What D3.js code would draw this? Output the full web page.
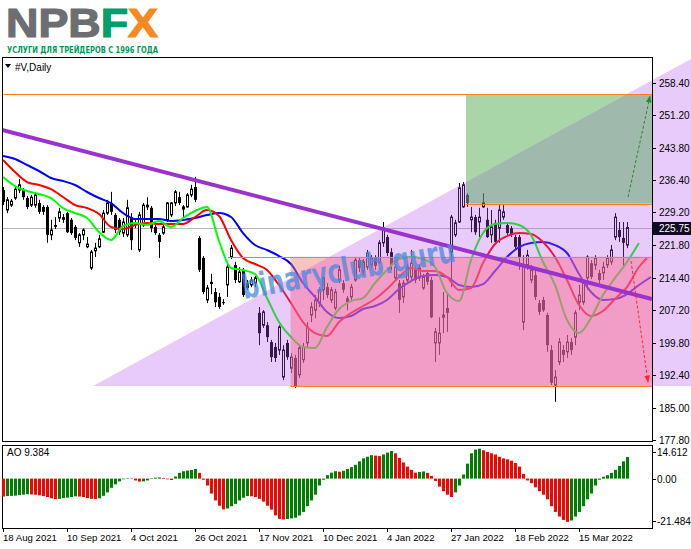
<!DOCTYPE html>
<html><head><meta charset="utf-8">
<script src="https://cdn.jsdelivr.net/npm/d3@7"></script>
<style>html,body{margin:0;padding:0;background:#fff;}svg{display:block;}</style>
</head><body>
<svg id="chart" width="691" height="549"></svg>
<script>
// ---------- DATA ----------
const symbolTitle = "#V,Daily";
const priceTicks = [258.40, 251.20, 243.80, 236.40, 229.20, 221.80, 214.40, 207.20, 199.80, 192.40, 185.00, 177.80];
const lastPrice = 225.75;
const aoTicks = [14.612, 0.00, -21.484];
const aoLast = 9.384;
const dateTickBars = [0, 16, 32, 48, 64, 80, 96, 112, 128, 144];
const dateTickLabels = ["18 Aug 2021","10 Sep 2021","4 Oct 2021","26 Oct 2021","17 Nov 2021","10 Dec 2021","4 Jan 2022","27 Jan 2022","18 Feb 2022","15 Mar 2022"];

// daily candles [open, high, low, close], one per bar
const candles = [
[234.2,234.9,230.8,231.5],[229.7,232.6,229.0,232.0],[230.8,232.2,230.4,231.7],[232.4,234.9,232.0,234.4],[234.2,236.7,233.5,235.4],
[234.2,234.7,232.0,232.6],[232.4,232.9,229.9,230.4],[230.8,233.1,230.4,232.6],[230.8,233.5,230.2,233.1],[231.3,232.0,228.8,229.3],
[230.4,230.8,228.6,229.3],[230.4,230.8,222.3,224.1],[224.1,227.5,222.9,225.2],[226.3,228.1,225.4,225.9],[227.9,230.2,227.0,229.3],
[228.1,228.8,226.8,227.5],[229.0,229.3,224.5,224.7],[227.5,227.9,224.1,224.5],[225.9,226.3,222.9,223.4],[222.3,224.5,221.4,224.1],
[224.1,225.6,222.9,225.2],[221.4,223.6,221.1,222.0],[216.6,220.7,216.2,220.2],[220.5,222.3,219.1,221.1],[221.4,224.1,221.1,223.2],
[224.7,229.7,224.5,229.0],[229.0,232.0,228.6,231.3],[231.3,233.8,228.6,229.3],[228.6,229.0,224.5,225.2],[227.5,227.9,224.1,224.7],
[224.5,227.9,223.6,227.0],[224.1,232.0,223.6,230.2],[228.1,229.0,220.7,222.9],[226.8,227.5,225.6,226.3],[220.7,229.3,220.2,228.6],
[226.3,231.3,225.9,230.8],[230.4,232.6,229.7,230.8],[230.2,230.6,224.7,225.6],[225.9,226.3,224.1,224.5],[224.1,224.5,218.9,222.5],
[224.5,226.3,224.1,225.9],[227.5,231.5,227.0,231.3],[228.6,231.5,228.1,231.3],[231.3,234.2,230.6,233.8],[232.6,233.8,230.8,231.3],
[229.9,230.8,228.1,230.4],[230.4,233.5,230.2,233.1],[233.1,235.4,232.6,234.4],[234.9,237.2,231.5,232.0],[223.4,223.8,215.7,216.2],
[218.9,219.3,210.7,211.2],[209.4,212.8,208.7,212.1],[213.5,215.3,210.7,213.0],[211.2,212.1,207.8,208.9],[210.1,211.0,207.4,207.8],
[208.9,209.6,208.3,208.7],[212.8,217.7,210.1,216.8],[219.1,221.8,218.6,221.1],[217.3,218.0,213.2,213.9],[213.5,216.8,213.2,215.7],
[216.2,216.6,210.1,210.5],[213.2,213.9,211.7,212.1],[212.8,214.6,212.3,213.9],[213.2,214.8,212.3,214.4],[206.5,207.8,199.2,201.9],
[203.7,207.1,203.1,206.7],[203.7,204.4,199.9,201.0],[199.9,200.4,195.4,196.5],[198.8,199.7,195.4,196.3],[198.1,203.7,197.0,203.3],
[192.0,199.2,191.3,198.1],[199.7,200.4,195.9,196.5],[194.0,197.4,192.9,196.5],[196.3,197.0,189.5,189.8],[192.5,199.2,191.8,198.6],
[195.9,199.7,195.2,198.8],[199.7,204.4,198.6,203.3],[206.0,208.9,204.4,207.8],[207.1,210.5,205.3,209.4],[208.7,212.3,207.8,211.7],
[211.7,214.8,209.4,214.4],[212.3,213.2,209.8,210.5],[209.4,212.3,208.7,211.7],[207.6,211.9,207.1,211.2],[213.9,217.1,213.2,216.2],
[213.2,213.9,211.0,211.7],[209.8,210.3,207.1,208.9],[210.1,213.0,209.4,212.3],[213.9,219.1,213.5,218.4],[218.4,219.1,215.7,216.6],
[215.7,218.6,215.0,218.0],[216.8,220.7,216.2,220.0],[217.3,219.5,216.6,218.9],[218.9,219.5,216.2,217.1],[218.0,222.9,217.5,222.3],
[222.3,227.0,221.4,225.6],[223.6,224.1,219.3,220.0],[220.2,221.1,216.2,217.3],[214.4,217.5,213.7,216.8],[213.2,213.9,206.5,209.4],
[210.1,213.9,208.7,213.2],[213.9,217.5,213.2,216.8],[214.6,220.7,213.9,217.7],[216.2,217.1,213.2,213.9],[214.4,217.3,213.7,216.6],
[212.1,215.3,211.7,214.6],[215.5,216.2,212.8,213.5],[213.9,214.6,205.3,205.5],[199.7,203.1,195.4,202.2],[199.7,205.5,197.0,201.9],
[205.5,211.2,201.9,206.0],[207.6,210.9,202.2,206.5],[220.2,228.6,212.3,228.1],[224.1,227.5,223.6,226.8],[227.0,235.8,226.8,234.7],
[230.4,236.0,230.2,235.4],[233.1,233.5,230.4,231.3],[227.5,230.4,224.7,228.1],[228.1,228.6,224.1,224.7],[227.0,230.2,223.6,228.1],
[230.4,233.5,230.2,231.3],[227.5,230.2,223.4,223.6],[224.1,229.7,222.3,225.9],[226.8,227.5,222.3,222.5],[225.6,230.8,222.3,229.7],
[228.1,230.8,227.5,229.3],[226.3,227.0,224.1,224.5],[225.6,226.1,223.6,224.1],[223.6,224.1,220.9,221.4],[223.6,224.1,216.2,219.1],
[204.4,219.5,202.6,217.3],[217.3,220.7,216.2,219.5],[213.9,217.3,213.2,216.2],[215.0,216.2,209.4,210.1],[208.7,209.4,206.0,206.7],
[209.4,210.1,206.7,207.1],[206.0,206.5,197.7,199.2],[198.1,199.2,190.2,190.7],[190.2,193.6,186.4,192.0],[195.4,200.8,194.7,199.9],
[198.1,199.2,195.4,197.0],[197.7,201.5,196.3,199.9],[199.9,200.8,197.0,198.1],[201.0,207.1,199.2,206.5],[208.9,212.8,207.1,210.5],
[208.9,213.9,208.3,213.2],[214.4,219.5,211.7,219.1],[217.7,218.4,214.1,214.6],[217.3,219.5,216.2,218.9],[215.5,216.2,213.2,213.9],
[215.5,218.0,213.9,216.8],[217.3,219.5,216.6,218.9],[218.0,221.8,217.3,220.7],[223.6,229.0,222.9,228.1],[225.2,227.0,222.5,223.6],
[223.4,227.0,216.6,222.3],[221.8,227.0,221.1,225.75]
];

// Alligator lines, one value every 3 bars (bar 0, 3, 6, ...), incl. forward shift
const jaw = [241.89,241.21,239.86,238.51,236.93,236.25,235.35,233.77,232.41,231.28,229.03,227.67,227.67,227.67,227.22,227.45,227.90,228.57,229.03,228.12,
224.51,221.80,220.68,219.32,217.52,213.23,210.07,206.68,205.33,205.78,207.36,208.04,209.39,211.87,213.68,214.81,215.03,214.58,212.78,212.32,
213.00,215.94,219.10,221.35,222.25,222.48,221.80,220.00,215.26,211.20,209.39,209.62,210.74,212.78,214.58];
const teeth = [240.99,238.28,236.02,235.35,234.44,232.64,230.83,230.15,228.80,225.87,225.41,226.32,226.77,226.54,226.54,226.54,228.12,229.70,228.35,222.93,
218.87,217.52,216.16,212.78,208.71,204.42,201.94,201.26,204.42,206.46,208.04,209.62,211.87,214.58,216.61,215.94,215.94,214.58,211.65,212.10,
217.74,222.03,223.83,224.51,224.29,222.48,219.10,213.90,208.26,205.78,206.91,209.62,212.32,216.84,218.87];
const teethLastBar = 161;
const lips = [237.15,235.12,233.99,233.31,232.41,230.15,229.03,227.90,224.74,222.93,226.09,226.77,226.32,227.22,225.87,227.90,229.48,230.38,222.71,216.61,
216.16,215.26,209.84,204.42,201.04,198.78,198.56,203.30,207.36,209.16,209.84,213.23,216.16,218.64,219.10,218.64,216.84,210.97,209.16,218.42,
224.51,226.54,226.77,226.32,224.06,217.97,212.78,204.88,201.94,205.33,210.52,214.36,217.97,222.25];

// Awesome Oscillator, one value per bar
const ao = [-7.8,-7.6,-7.5,-7.4,-7.2,-7.0,-6.8,-6.9,-7.0,-7.3,
-7.6,-8.0,-8.6,-8.9,-8.8,-8.5,-8.3,-8.0,-7.7,-7.8,
-8.0,-8.5,-8.8,-8.9,-8.6,-7.5,-6.0,-4.0,-2.5,-1.2,
-0.3,0.1,0.0,-0.8,-1.3,-1.2,-0.8,0.1,0.4,0.5,
0.3,-0.3,-0.6,0.9,2.5,3.2,3.5,3.8,4.2,2.5,
-0.5,-3.0,-6.5,-9.5,-11.8,-13.4,-13.0,-12.0,-11.0,-9.5,
-8.3,-7.6,-7.7,-8.0,-8.8,-10.0,-11.8,-13.5,-16.0,-17.5,
-17.8,-17.6,-17.3,-17.0,-16.0,-14.5,-12.0,-9.5,-7.0,-3.0,
-0.5,1.5,2.6,3.2,3.0,3.4,4.2,5.0,6.0,7.5,
8.8,9.5,10.2,10.0,9.8,10.5,11.3,12.0,11.0,9.0,
7.0,5.2,3.8,2.6,2.9,3.1,2.5,1.2,-1.0,-3.5,
-5.5,-7.0,-8.0,-6.0,-3.0,1.8,6.5,11.0,12.6,13.0,
12.3,11.6,11.0,10.5,9.5,8.8,8.4,7.8,6.8,5.2,
2.0,-0.8,-2.0,-3.8,-5.5,-7.0,-9.0,-12.0,-14.5,-16.5,
-18.0,-18.8,-18.2,-16.5,-14.5,-12.0,-9.0,-6.5,-3.0,-0.5,
0.8,1.5,2.5,3.8,5.5,7.5,9.384];

// drawn objects: [bar, price]
const trendLine = [[-0.25, 247.8], [162.25, 209.6]];
const triangleZone = [[22.5, 190.0], [172, 263.8], [172, 190.0]];
const buyZone = [115.75, 162.25, 231.17, 255.88];   // barFrom, barTo, priceLow, priceHigh
const sellZone = [71.9, 162.25, 189.98, 219.16];
const levelLines = [[-0.25, 162.25, 255.88], [56.25, 162.25, 219.16], [71.9, 162.25, 189.98], [115.75, 162.25, 231.17]];
const upArrow = [[156.25, 232.6], [161.75, 255.4]];
const downArrow = [[157, 218.2], [161.25, 190.9]];
const watermark = "binaryclub.guru";
const logoParts = ["NPB", "F", "X"];
const tagline = "УСЛУГИ ДЛЯ ТРЕЙДЕРОВ С 1996 ГОДА";

// ---------- LAYOUT ----------
const W = 691, H = 549;
const L = 2, R = 652, T = 57, B = 441, AT = 445, AB = 528;
const svg = d3.select("#chart");
const x = d3.scaleLinear().domain([0, 1]).range([3, 7]);
const y = d3.scaleLinear().domain([177.57, 264.24]).range([B, T]);
const ya = d3.scaleLinear().domain([-21.484, 14.612]).range([AB, AT]);
const FONT = "'Liberation Sans', Arial, sans-serif";

svg.append("rect").attr("width", W).attr("height", H).attr("fill", "#fff");

const defs = svg.append("defs");
defs.append("clipPath").attr("id", "cMain").append("rect").attr("x", L).attr("y", T).attr("width", R - L).attr("height", B - T);
defs.append("clipPath").attr("id", "cWide").append("rect").attr("x", L).attr("y", T).attr("width", W - L).attr("height", B - T);
const triPts = triangleZone.map(d => [x(d[0]), y(d[1])]);
defs.append("clipPath").attr("id", "cTri").append("polygon").attr("points", triPts.map(p => p.join(",")).join(" "));
const s = (triPts[1][1] - triPts[0][1]) / (triPts[1][0] - triPts[0][0]);
const y0 = triPts[0][1] - s * triPts[0][0];
defs.append("clipPath").attr("id", "cAbove").append("polygon")
  .attr("points", [[0, y0], [W, y0 + s * W], [W, 0], [0, 0]].map(p => p.join(",")).join(" "));
["#1f8f1f", "#ff2a2a"].forEach((c, k) => {
  defs.append("marker").attr("id", "ah" + k).attr("viewBox", "0 0 10 10").attr("refX", 9).attr("refY", 5)
    .attr("markerWidth", 7).attr("markerHeight", 7).attr("orient", "auto")
    .append("path").attr("d", "M0,1 L10,5 L0,9 Z").attr("fill", c);
});

// ---------- LOGO ----------
const logoColors = ["#6d6e71", "#00a06a", "#f58a1f"];
const logoText = svg.append("text").attr("x", 6).attr("y", 36.5).attr("font-family", "'Liberation Sans', Arial, sans-serif")
  .attr("font-weight", "bold").attr("font-size", 40).attr("textLength", 152).attr("lengthAdjust", "spacingAndGlyphs")
  .attr("stroke-width", 1.2).attr("paint-order", "stroke");
logoParts.forEach((t, k) => logoText.append("tspan").attr("fill", logoColors[k]).attr("stroke", logoColors[k]).text(t));
svg.append("text").attr("x", 7).attr("y", 53.3).attr("font-size", 9).attr("fill", "#00995a").attr("font-weight", "bold")
  .attr("font-family", "'DejaVu Sans Condensed', 'DejaVu Sans', sans-serif")
  .attr("textLength", 151).attr("lengthAdjust", "spacingAndGlyphs").text(tagline);

// ---------- MAIN PANEL ----------
const main = svg.append("g").attr("clip-path", "url(#cMain)");
main.append("line").attr("x1", L).attr("x2", R).attr("y1", Math.round(y(lastPrice)) + 0.5).attr("y2", Math.round(y(lastPrice)) + 0.5)
  .attr("stroke", "#b8b8b8").attr("stroke-width", 1);

const cg = main.append("g");
candles.forEach((c, i) => {
  const [o, h, l, cl] = c;
  const cx = Math.round(x(i));
  cg.append("line").attr("x1", cx + 0.5).attr("x2", cx + 0.5).attr("y1", y(h)).attr("y2", y(l)).attr("stroke", "#000").attr("stroke-width", 1);
  const top = Math.min(y(o), y(cl)), bot = Math.max(y(o), y(cl));
  if (cl >= o) {
    cg.append("rect").attr("x", cx - 0.5).attr("y", top).attr("width", 2).attr("height", Math.max(bot - top, 1))
      .attr("fill", "#fff").attr("stroke", "#000").attr("stroke-width", 1);
  } else {
    cg.append("rect").attr("x", cx - 1).attr("y", top).attr("width", 3).attr("height", Math.max(bot - top, 1)).attr("fill", "#000");
  }
});

const line = d3.line().x(d => x(d[0])).y(d => y(d[1])).curve(d3.curveMonotoneX);
const jawPts = jaw.map((v, k) => [k * 3, v]);
const teethPts = teeth.map((v, k) => [k === teeth.length - 1 ? teethLastBar : k * 3, v]);
const lipsPts = lips.map((v, k) => [k * 3, v]);
main.append("path").attr("d", line(jawPts)).attr("fill", "none").attr("stroke", "#0000ff").attr("stroke-width", 2);
main.append("path").attr("d", line(teethPts)).attr("fill", "none").attr("stroke", "#ff0000").attr("stroke-width", 2);
main.append("path").attr("d", line(lipsPts)).attr("fill", "none").attr("stroke", "#00ff00").attr("stroke-width", 2);

// overlays (drawn above candles and lines)
const wide = svg.append("g").attr("clip-path", "url(#cWide)");
wide.append("polygon").attr("points", triPts.map(p => p.join(",")).join(" ")).attr("fill", "rgb(178,82,240)").attr("fill-opacity", 0.3);

const over = svg.append("g").attr("clip-path", "url(#cMain)");
function zone(z, fill, op, clip) {
  over.append("g").attr("clip-path", `url(#${clip})`).append("rect")
    .attr("x", x(z[0])).attr("y", y(z[3])).attr("width", x(z[1]) - x(z[0])).attr("height", y(z[2]) - y(z[3]))
    .attr("fill", fill).attr("fill-opacity", op);
}
zone(buyZone, "rgb(62,164,62)", 0.45, "cAbove");
zone(buyZone, "rgb(85,168,95)", 0.5, "cTri");
zone(sellZone, "rgb(240,125,115)", 0.45, "cAbove");
zone(sellZone, "rgb(250,112,150)", 0.5, "cTri");

levelLines.forEach(l => {
  over.append("line").attr("x1", x(l[0])).attr("x2", x(l[1])).attr("y1", Math.round(y(l[2])) + 0.5).attr("y2", Math.round(y(l[2])) + 0.5)
    .attr("stroke", "#ff7f27").attr("stroke-width", 1);
});

over.append("line").attr("x1", x(trendLine[0][0])).attr("y1", y(trendLine[0][1])).attr("x2", x(trendLine[1][0])).attr("y2", y(trendLine[1][1]))
  .attr("stroke", "#9a32cd").attr("stroke-width", 4);

svg.append("text").attr("transform", "translate(244,299) rotate(-10)").attr("font-family", "'DejaVu Sans', sans-serif")
  .attr("font-weight", "bold").attr("font-size", 33).attr("fill", "#4a88dc").attr("fill-opacity", 0.75)
  .attr("textLength", 216).attr("lengthAdjust", "spacingAndGlyphs").text(watermark);

[[upArrow, "#1f8f1f", 0], [downArrow, "#ff2a2a", 1]].forEach(([a, c, k]) => {
  svg.append("line").attr("x1", x(a[0][0])).attr("y1", y(a[0][1])).attr("x2", x(a[1][0])).attr("y2", y(a[1][1]))
    .attr("stroke", c).attr("stroke-width", 1).attr("stroke-dasharray", "3,2").attr("marker-end", `url(#ah${k})`);
});

// title
svg.append("path").attr("d", "M5,64 L11,64 L8,68 Z").attr("fill", "#000");
svg.append("text").attr("x", 15).attr("y", 70.5).attr("font-family", FONT).attr("font-size", 10).attr("fill", "#000").text(symbolTitle);

// frames
svg.append("rect").attr("x", L + 0.5).attr("y", T + 0.5).attr("width", R - L).attr("height", B - T).attr("fill", "none").attr("stroke", "#000");
svg.append("rect").attr("x", L + 0.5).attr("y", AT + 0.5).attr("width", R - L).attr("height", AB - AT).attr("fill", "none").attr("stroke", "#000");

// price axis
const pax = svg.append("g").attr("font-family", FONT).attr("font-size", 10).attr("fill", "#000");
priceTicks.forEach(v => {
  const yy = Math.round(y(v)) + 0.5;
  pax.append("line").attr("x1", R).attr("x2", R + 4).attr("y1", yy).attr("y2", yy).attr("stroke", "#000");
  pax.append("text").attr("x", 659).attr("y", yy + 3.5).text(v.toFixed(2));
});
const ly = Math.round(y(lastPrice));
pax.append("rect").attr("x", R + 1).attr("y", ly - 6).attr("width", W - R - 1).attr("height", 13).attr("fill", "#120a22");
pax.append("text").attr("x", 659).attr("y", ly + 4).attr("fill", "#fff").text(lastPrice.toFixed(2));

// ---------- AO PANEL ----------
const aog = svg.append("g");
ao.forEach((v, i) => {
  const up = i === 0 ? false : v >= ao[i - 1];
  const y1 = ya(Math.max(v, 0)), y2 = ya(Math.min(v, 0));
  aog.append("rect").attr("x", Math.round(x(i)) - 1).attr("y", y1).attr("width", 3).attr("height", Math.max(y2 - y1, 0.5))
    .attr("fill", up ? "#008000" : "#ff0000");
});
svg.append("text").attr("x", 7).attr("y", 456).attr("font-family", FONT).attr("font-size", 10).text("AO " + aoLast.toFixed(3));
const aoLabelY = [ya(aoTicks[0]) + 7, ya(aoTicks[1]), ya(aoTicks[2]) - 7];
aoTicks.forEach((v, k) => {
  const yy = Math.round(aoLabelY[k]) + 0.5;
  svg.append("line").attr("x1", R).attr("x2", R + 4).attr("y1", yy).attr("y2", yy).attr("stroke", "#000");
  svg.append("text").attr("x", 657).attr("y", yy + 3.5).attr("font-family", FONT).attr("font-size", 10)
    .text(v === 0 ? "0.00" : String(v));
});

// date axis
dateTickBars.forEach((b, k) => {
  const xx = Math.round(x(b)) + 0.5;
  svg.append("line").attr("x1", xx).attr("x2", xx).attr("y1", AB).attr("y2", AB + 4).attr("stroke", "#000");
  svg.append("text").attr("x", xx - 0.5).attr("y", 541).attr("font-family", FONT).attr("font-size", 9.6).text(dateTickLabels[k]);
});
</script>
</body></html>
